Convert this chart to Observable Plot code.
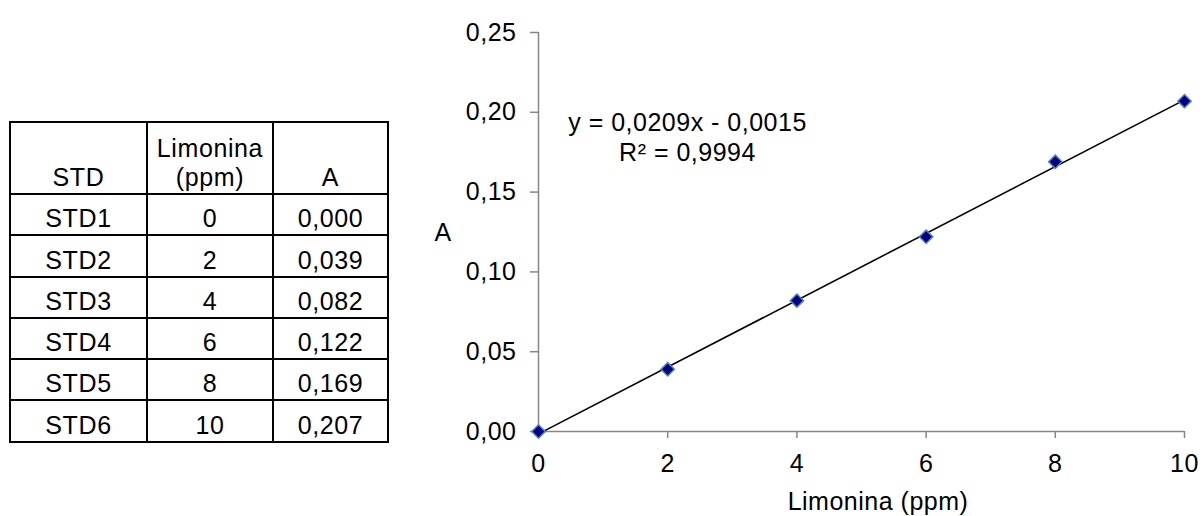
<!DOCTYPE html>
<html>
<head>
<meta charset="utf-8">
<script src="https://cdn.jsdelivr.net/npm/d3@7"></script>
<script src="https://cdn.jsdelivr.net/npm/@observablehq/plot@0.6"></script>
<style>
  html, body { margin: 0; padding: 0; background: #fff; }
  #page { position: relative; width: 1203px; height: 516px; overflow: hidden; background: #fff; }
  #tbl { position: absolute; left: 9px; top: 121px; border-collapse: collapse; table-layout: fixed;
         font-family: "Liberation Sans", Arial, sans-serif; font-size: 25px; letter-spacing: 0.6px; color: #000; }
  #tbl td { border: 2px solid #000; padding: 0 0 1px 0; text-align: center; vertical-align: bottom; line-height: 29px; }
  #chart { position: absolute; left: 400px; top: 0; }
</style>
</head>
<body>
<div id="page">
  <table id="tbl"></table>
  <div id="chart"></div>
</div>
<script>
// ---- data ----
const stdNames = ["STD1", "STD2", "STD3", "STD4", "STD5", "STD6"];
const concentration = [0, 2, 4, 6, 8, 10];            // Limonina (ppm)
const absorbance = [0.000, 0.039, 0.082, 0.122, 0.169, 0.207]; // A
const tableHeaders = ["STD", "Limonina\n(ppm)", "A"];
const xTicks = [0, 2, 4, 6, 8, 10];
const yTicks = [0, 0.05, 0.10, 0.15, 0.20, 0.25];
const xTitle = "Limonina (ppm)";
const yTitle = "A";
const equationLines = ["y = 0,0209x - 0,0015", "R² = 0,9994"];

const comma = (v, d) => v.toFixed(d).replace(".", ",");

// ---- table ----
const tbl = document.getElementById("tbl");
const colWidths = [137, 126, 115];
const cg = document.createElement("colgroup");
colWidths.forEach(w => { const c = document.createElement("col"); c.style.width = w + "px"; cg.appendChild(c); });
tbl.appendChild(cg);
const hr = document.createElement("tr");
hr.style.height = "72px";
tableHeaders.forEach(h => {
  const td = document.createElement("td");
  h.split("\n").forEach((line, i) => { if (i) td.appendChild(document.createElement("br")); td.appendChild(document.createTextNode(line)); });
  hr.appendChild(td);
});
tbl.appendChild(hr);
stdNames.forEach((name, i) => {
  const tr = document.createElement("tr");
  tr.style.height = "41.3px";
  [name, String(concentration[i]), comma(absorbance[i], 3)].forEach(t => {
    const td = document.createElement("td");
    td.textContent = t;
    tr.appendChild(td);
  });
  tbl.appendChild(tr);
});

// ---- chart ----
const data = concentration.map((c, i) => ({x: c, y: absorbance[i]}));
const axisGray = "#868686";

const chart = Plot.plot({
  width: 803,
  height: 516,
  marginLeft: 138,
  marginRight: 19,
  marginTop: 32,
  marginBottom: 85,
  style: {fontFamily: "'Liberation Sans', Arial, sans-serif", fontSize: "25px", letterSpacing: "0.5px", color: "#000", background: "transparent", overflow: "visible"},
  x: {domain: [0, 10], label: null},
  y: {domain: [0, 0.25], label: null},
  marks: [
    Plot.axisY({ticks: yTicks, tickSize: 8, tickPadding: 14, stroke: axisGray, strokeWidth: 1.5, tickFormat: d => comma(d, 2), label: null}),
    Plot.axisX({ticks: xTicks, tickSize: 7, tickPadding: 16, stroke: axisGray, strokeWidth: 1.5, tickFormat: d => String(d), label: null}),
    Plot.ruleX([0], {stroke: axisGray, strokeWidth: 1.5}),
    Plot.ruleY([0], {stroke: axisGray, strokeWidth: 1.5}),
    Plot.linearRegressionY(data, {x: "x", y: "y", stroke: "#000", strokeWidth: 1.6, ci: 0}),
    Plot.dot(data, {x: "x", y: "y", symbol: "diamond2", r: 6, fill: "#000080", stroke: "#4f81bd", strokeWidth: 1.5}),
    Plot.text([equationLines.join("\n")], {frameAnchor: "top-left", textAnchor: "middle", lineAnchor: "top", dx: 149, dy: 77.3, lineHeight: 1.2, fill: "#000"}),
    Plot.text([xTitle], {frameAnchor: "bottom", textAnchor: "middle", lineAnchor: "top", dx: 16.5, dy: 60.3, fill: "#000"}),
    Plot.text([yTitle], {frameAnchor: "left", textAnchor: "middle", lineAnchor: "middle", dx: -95.5, dy: 1, fill: "#000"})
  ]
});
document.getElementById("chart").appendChild(chart);
</script>
</body>
</html>
